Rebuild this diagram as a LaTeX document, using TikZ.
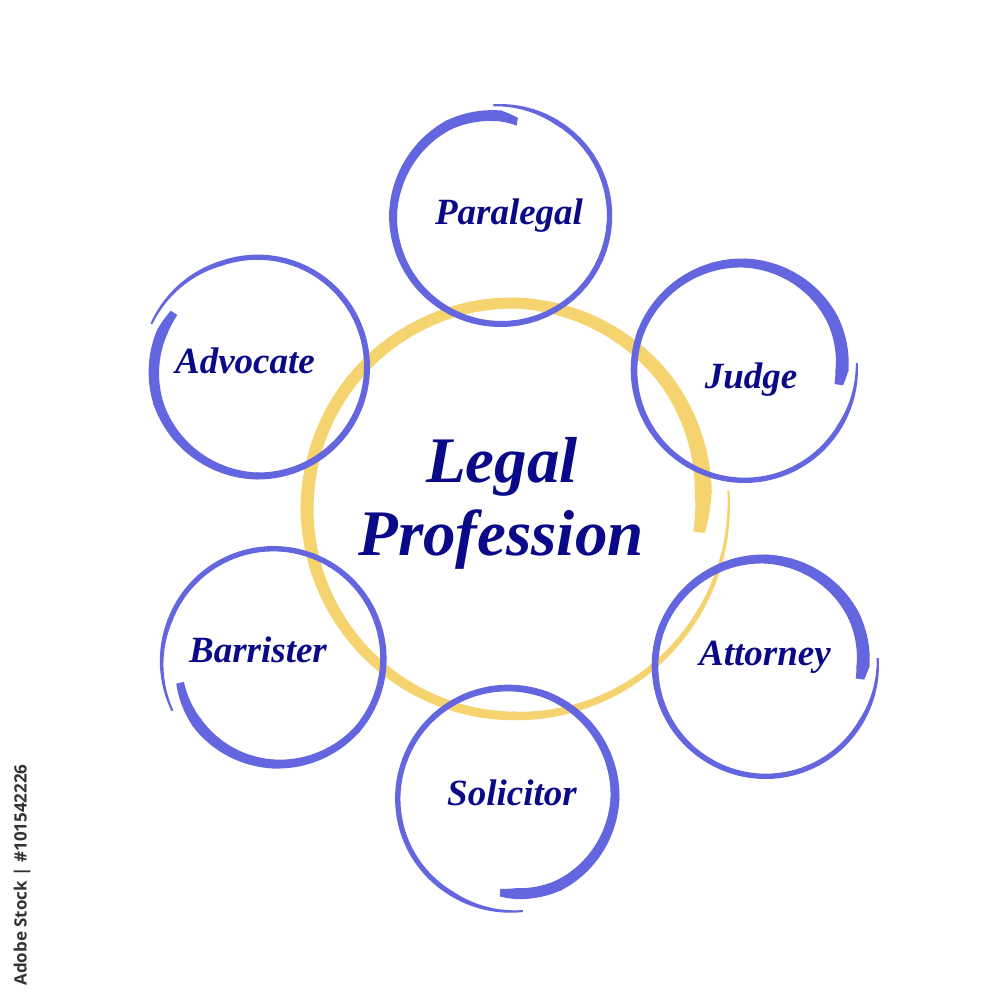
\documentclass[tikz,border=0pt]{standalone}
\usepackage{fontspec}
\setmainfont{Liberation Serif}
\newfontfamily\wmfont{Open Sans}
\definecolor{ringblue}{HTML}{6366DE}
\definecolor{ringyellow}{HTML}{F5D36F}
\definecolor{labelnavy}{HTML}{0A0A88}
\definecolor{wmgray}{HTML}{333333}
% tapered brush segment: color, cx, cy, a0, a1, r0, r1, w0, w1
\newcommand\brushseg[9]{%
  \pgfmathsetmacro\bsend{#5+0.8}%
  \fill[#1] plot[domain=#4:\bsend,samples=30,variable=\t]
    ({#2+((#6)+((#7)-(#6))*(\t-(#4))/((#5)-(#4))+0.5*((#8)+((#9)-(#8))*(\t-(#4))/((#5)-(#4))))*cos(\t)},
     {#3+((#6)+((#7)-(#6))*(\t-(#4))/((#5)-(#4))+0.5*((#8)+((#9)-(#8))*(\t-(#4))/((#5)-(#4))))*sin(\t)})
    -- plot[domain=\bsend:#4,samples=30,variable=\t]
    ({#2+((#6)+((#7)-(#6))*(\t-(#4))/((#5)-(#4))-0.5*((#8)+((#9)-(#8))*(\t-(#4))/((#5)-(#4))))*cos(\t)},
     {#3+((#6)+((#7)-(#6))*(\t-(#4))/((#5)-(#4))-0.5*((#8)+((#9)-(#8))*(\t-(#4))/((#5)-(#4))))*sin(\t)})
    -- cycle;}
\newcommand\brushring[4]{%
  \foreach \sA/\sB/\rA/\rB/\wA/\wB in {#4}{\brushseg{#1}{#2}{#3}{\sA}{\sB}{\rA}{\rB}{\wA}{\wB}}}
\begin{document}
\begin{tikzpicture}[x=1pt,y=-1pt,
  lbl/.style={text=labelnavy,font=\bfseries\itshape\fontsize{37}{40}\selectfont,anchor=base,inner sep=0pt},
  title/.style={text=labelnavy,font=\bfseries\itshape\fontsize{65}{70}\selectfont,anchor=base,inner sep=0pt}]
\useasboundingbox (0,0) rectangle (1000,1000);
\fill[white] (0,0) rectangle (1000,1000);

% central yellow ring
\brushring{ringyellow}{515}{507}{-4.5/30/214/212/2/5, 30/90/212/209/5/8.5, 90/180/209/208/8.5/13,
  180/270/208/204/13/11, 270/320/204/197/11/14, 320/355/197/189/14/17, 355/367/189/186/17/12}

% Paralegal
\brushring{ringblue}{501}{216}{-94/-60/111/109/2/5, -60/90/109/108/5/6, 90/180/108/108/6/8,
  180/240/108/105/8/10, 240/270/105/100/10/11, 270/279/100/96/11/8}
% Judge
\brushring{ringblue}{744}{370}{-3.5/30/113/111/2/5, 30/120/111/110/5/5.5, 120/200/110/110/5.5/7,
  200/270/110/107/7/9, 270/330/107/102/9/12, 330/360/102/98/12/13, 360/368/98/96/13/9}
% Attorney
\brushring{ringblue}{765}{666}{-4/30/113/111/2/5, 30/120/111/110/5/5.5, 120/200/110/110/5.5/7,
  200/270/110/107/7/9, 270/330/107/102/9/12, 330/360/102/98/12/13, 360/367/98/96/13/9}
% Solicitor
\brushring{ringblue}{508}{798}{82.5/120/114/111/2/5, 120/200/111/110/5/5.5, 200/290/110/110/5.5/7,
  290/360/110/107/7/9, 360/420/107/101/9/11, 420/445/101/96/11/11, 445/454/96/95/11/8}
% Barrister
\brushring{ringblue}{274}{659}{153/200/114/111/2/5, 200/300/111/110/5/5.5, 300/400/110/109/5.5/7,
  400/450/109/105/7/9, 450/500/105/100/9/11, 500/525/100/97/11/8}
% Advocate
\brushring{ringblue}{258}{367}{202/250/115/110/2/5, 250/360/110/109/5/6, 360/450/109/109/6/7,
  450/520/109/106/7/10, 520/560/106/102/10/11, 560/572/102/100/11/8}

% labels
\node[lbl] (paralegal) at (509,225) {Paralegal};
\node[lbl] (advocate) at (245,373) {Advocate};
\node[lbl] (judge) at (751,388) {Judge};
\node[lbl] (attorney) at (765,665) {Attorney};
\node[lbl] (solicitor) at (512,805) {Solicitor};
\node[lbl] (barrister) at (258,662) {Barrister};
\node[title] (legal) at (502,482) {Legal};
\node[title] (profession) at (501,555) {Profession};

% side credit
\node[rotate=90,text=wmgray,font=\wmfont\bfseries\fontsize{17}{17}\selectfont,inner sep=0pt] (credit) at (22,875) {Adobe Stock | \#101542226};
\end{tikzpicture}
\end{document}
